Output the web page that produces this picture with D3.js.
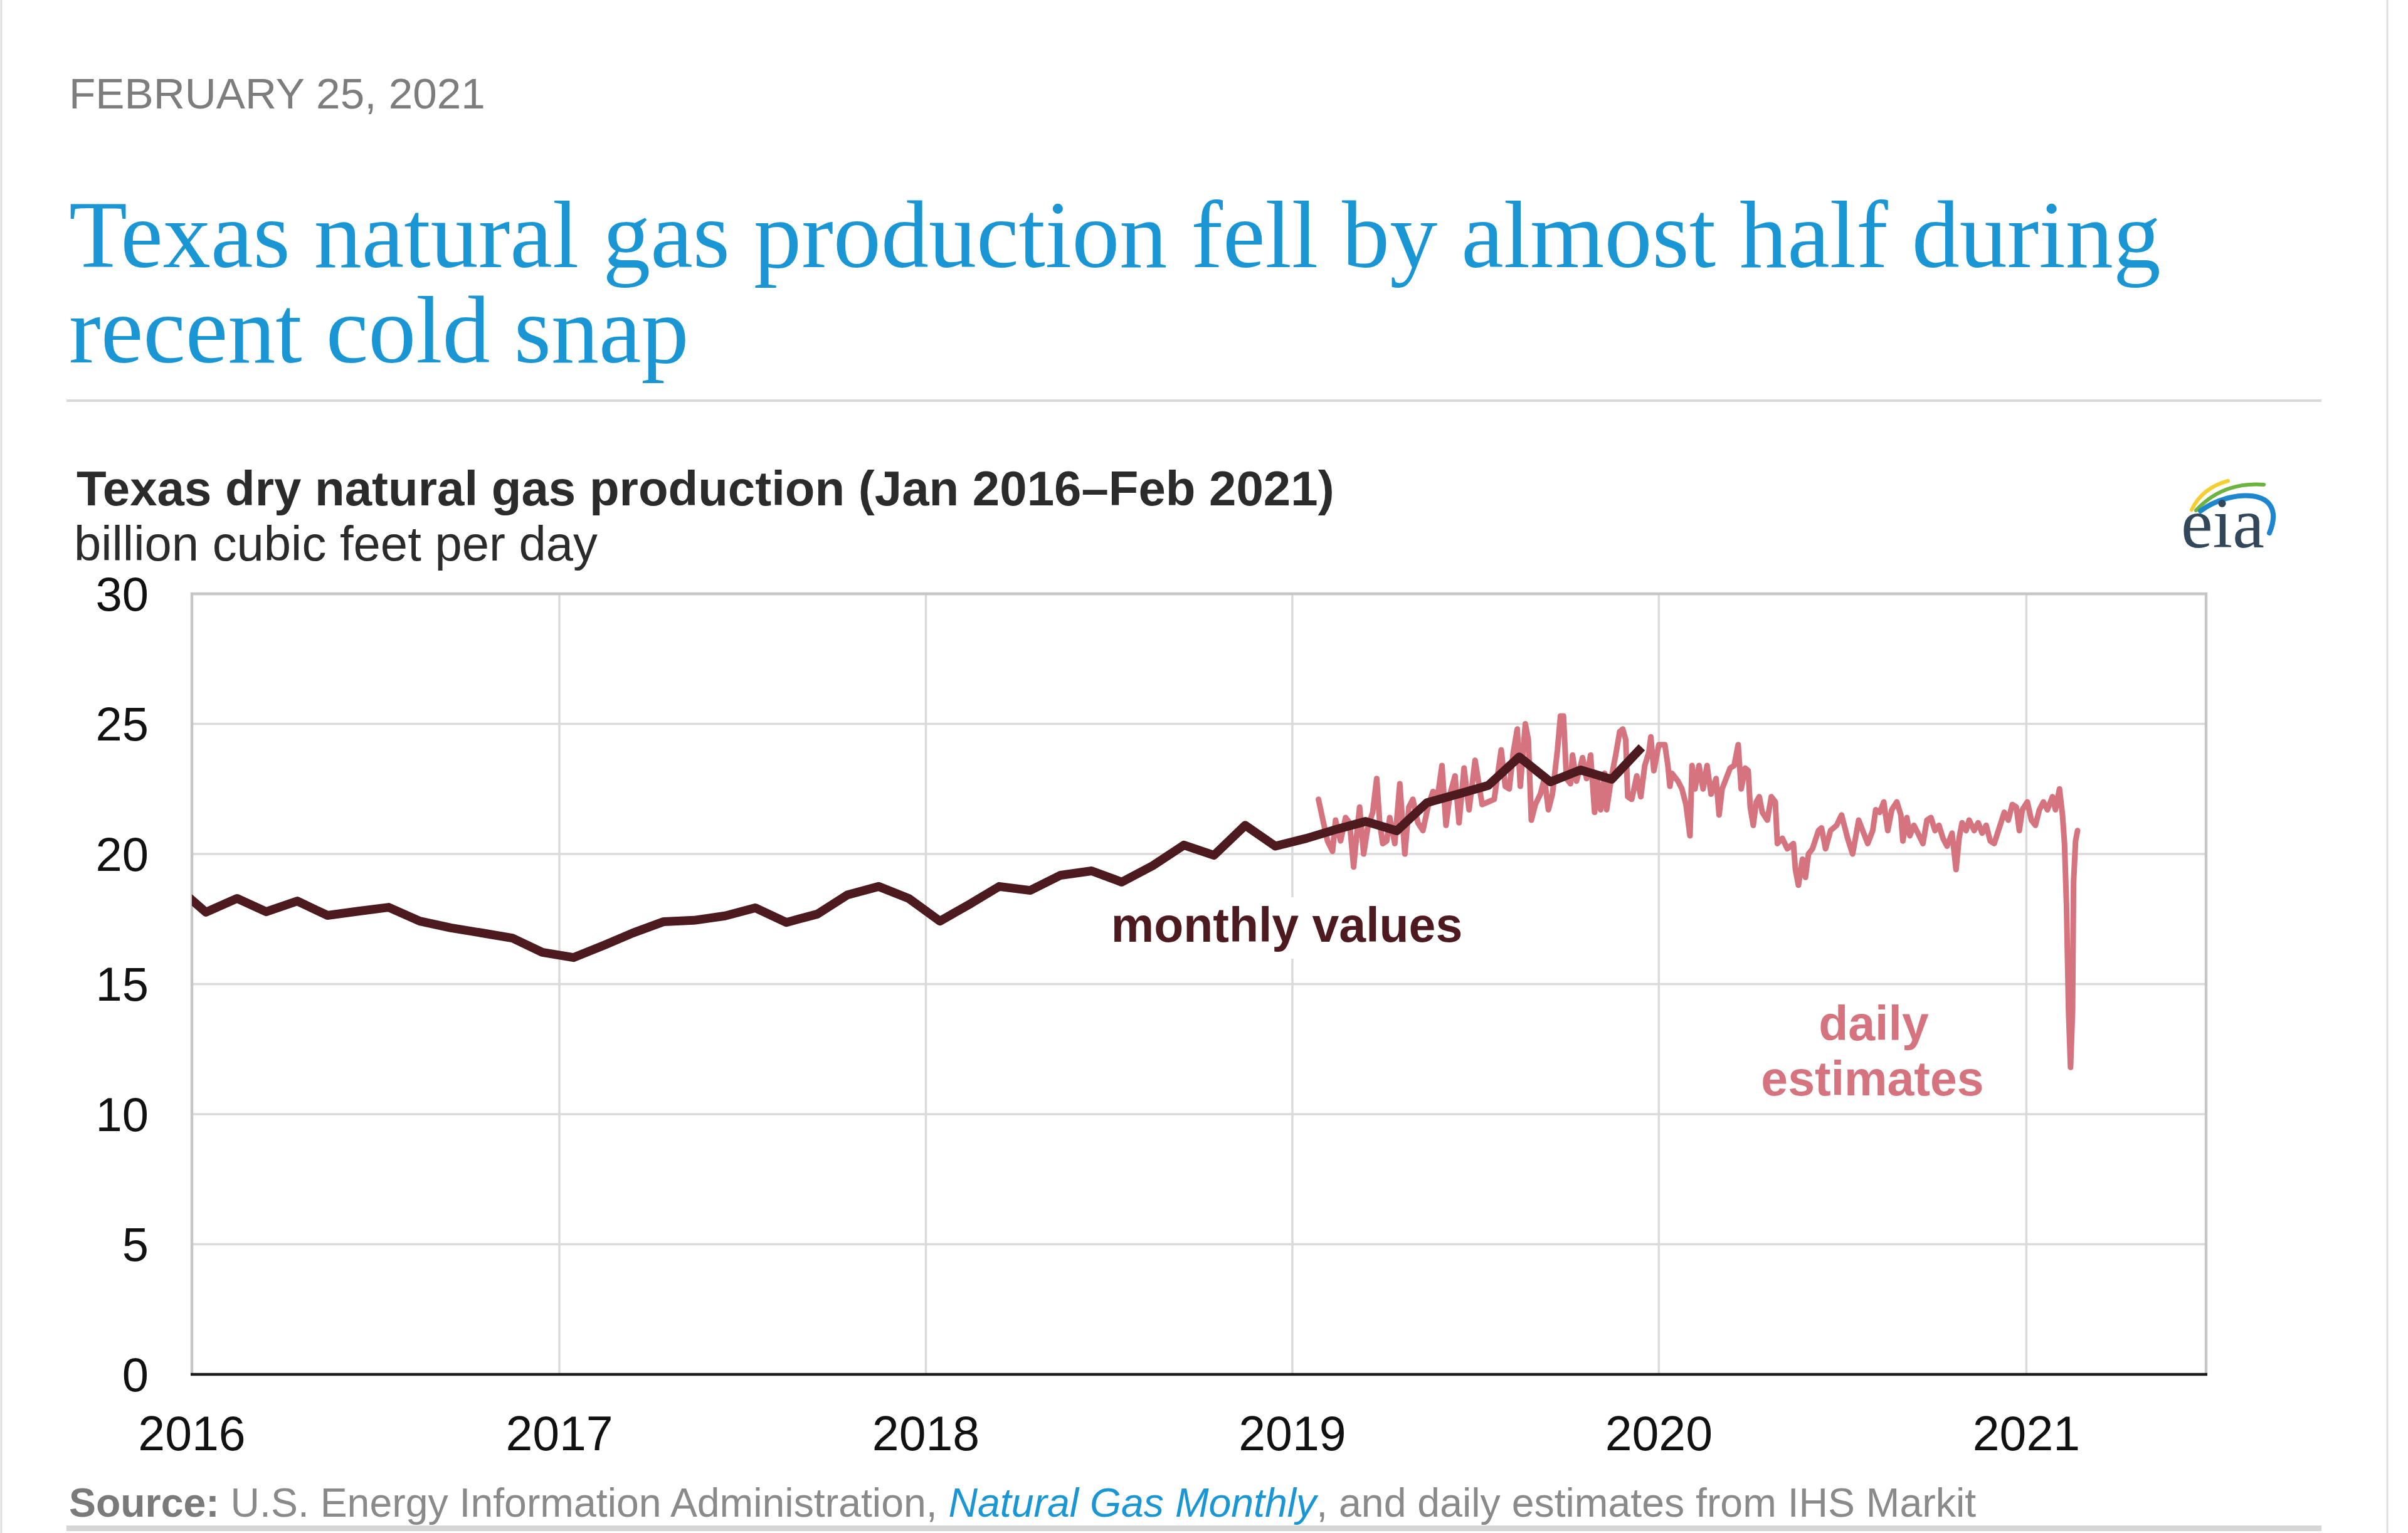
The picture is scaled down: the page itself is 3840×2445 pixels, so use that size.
<!DOCTYPE html>
<html><head><meta charset="utf-8">
<script src="https://cdn.jsdelivr.net/npm/d3@7"></script>
<style>html,body{margin:0;padding:0;background:#fff}</style>
</head><body>
<svg id="chart" width="3840" height="2445" xmlns="http://www.w3.org/2000/svg"></svg>
<script>
// ---------------- DATA ----------------
const yTicks = [0, 5, 10, 15, 20, 25, 30];
const xTickYears = [2016, 2017, 2018, 2019, 2020, 2021];

// monthly values (mid-month), Dec 2015 .. Dec 2019
const monthlyStart = [2015, 11]; // year, month index (Dec 2015)
const monthlyValues = [
  18.8,
  17.76, 18.29, 17.78, 18.19, 17.64, 17.8, 17.95, 17.42, 17.16, 16.97, 16.77, 16.22,
  16.02, 16.5, 16.96, 17.4, 17.45, 17.62, 17.93, 17.37, 17.69, 18.43, 18.75, 18.29,
  17.42, 18.1, 18.75, 18.6, 19.18, 19.35, 18.92, 19.55, 20.34, 19.95, 21.1, 20.3,
  20.6, 20.96, 21.25, 20.89, 21.97, 22.3, 22.63, 23.73, 22.77, 23.23, 22.87, 24.1
];

// daily estimates: days after 2019-01-01, and values
const dailyDays = [
  26,31,35,40,43,48,53,57,61,64,67,71,75,80,84,87,90,94,97,102,107,112,116,120,125,130,135,140,145,149,
  153,157,162,166,171,176,182,189,195,201,208,212,216,220,224,227,232,235,238,242,247,251,255,259,264,267,270,273,277,279,
  283,289,293,297,301,304,307,311,313,318,322,326,329,332,334,338,343,347,351,355,357,360,365,371,374,376,378,384,388,392,
  396,398,401,405,409,413,417,422,425,428,432,436,440,444,447,451,454,456,459,462,465,468,473,477,481,483,488,493,499,501,
  504,508,511,514,518,524,527,531,536,542,547,553,558,564,568,573,578,581,585,589,593,597,602,606,608,612,615,619,623,628,
  632,636,640,644,648,652,657,661,664,667,671,674,679,683,687,691,695,699,704,709,713,717,721,724,727,732,736,740,744,748,
  752,757,760,764,767,769,771,773,775,777,778,780,782
];
const dailyValues = [
  22.1,21.2,20.5,20.1,21.3,20.5,21.4,21.2,19.5,20.7,21.8,20.0,21.0,21.6,22.9,21.2,20.4,20.5,21.4,20.4,22.7,20.0,21.8,22.1,21.2,20.9,21.8,22.4,22.3,23.4,
  21.1,22.3,23.0,21.2,23.3,21.7,23.6,21.9,22.0,22.1,24.0,22.6,22.5,23.9,24.8,22.6,25.0,24.4,21.3,21.9,22.3,22.9,21.7,22.3,24.0,25.3,25.3,22.9,22.7,23.8,
  22.8,23.7,22.9,23.8,21.6,22.8,21.7,23.1,21.7,23.0,23.8,24.7,24.8,24.4,22.2,22.1,23.0,22.2,23.4,23.9,24.5,23.2,24.2,24.2,23.4,22.6,23.1,22.8,22.5,21.9,
  20.7,23.4,22.5,23.4,22.5,23.4,22.3,22.9,21.5,22.5,22.9,23.3,23.4,24.2,22.5,23.3,23.2,21.8,21.1,22.0,22.2,21.6,21.3,22.2,22.0,20.4,20.6,20.2,20.4,19.4,
  18.8,19.8,19.1,20.0,20.2,20.9,21.0,20.2,20.9,21.1,21.5,20.6,20.0,21.3,20.9,20.4,20.9,21.7,21.6,22.0,20.9,21.7,22.0,21.5,20.5,21.4,20.7,21.1,20.8,20.4,
  21.3,21.4,20.9,21.1,20.6,20.3,20.8,19.4,20.6,21.2,20.9,21.3,20.9,21.2,20.8,21.1,20.5,20.4,21.0,21.6,21.3,21.9,21.8,20.9,21.7,22.0,21.3,21.1,21.7,22.0,
  21.7,22.2,21.7,22.5,21.5,20.4,18.0,14.0,11.8,14.0,18.9,20.5,20.9
];

// ---------------- CHART ----------------
const svg = d3.select('#chart');
const SANS = '"Liberation Sans", Arial, Helvetica, sans-serif';
const SERIF = '"Liberation Serif", "Times New Roman", serif';
const PINK = '#d5737e', MAROON = '#4d1a1f', BLUE = '#1a96d5';

const plot = {left: 306, right: 3518, top: 947, bottom: 2192};
const x = d3.scaleUtc()
  .domain([new Date(Date.UTC(2016, 0, 1)), new Date(Date.UTC(2021, 5, 29))])
  .range([plot.left, plot.right]);
const y = d3.scaleLinear().domain([0, 30]).range([plot.bottom, plot.top]);

function fitText(sel, target) {
  const w = sel.node().getComputedTextLength();
  const fs = parseFloat(sel.attr('font-size'));
  sel.attr('font-size', (fs * target / w).toFixed(2));
  return fs * target / w;
}

// page frame
svg.append('line').attr('x1', 2).attr('x2', 2).attr('y1', 0).attr('y2', 2445)
  .attr('stroke', '#dedede').attr('stroke-width', 3);
svg.append('line').attr('x1', 3807).attr('x2', 3807).attr('y1', 0).attr('y2', 2445)
  .attr('stroke', '#dedede').attr('stroke-width', 3);
svg.append('rect').attr('x', 106).attr('y', 2433).attr('width', 3596).attr('height', 9).attr('fill', '#d6d6d6');
svg.append('rect').attr('x', 106).attr('y', 637).attr('width', 3596).attr('height', 4).attr('fill', '#d8d8d8');

// date
const dateT = svg.append('text').attr('x', 110).attr('y', 173)
  .attr('font-family', SANS).attr('font-size', 70).attr('fill', '#7d7d7d')
  .text('FEBRUARY 25, 2021');
fitText(dateT, 664);

// headline (two lines in one text element)
const probe = svg.append('text').attr('font-family', SERIF).attr('font-size', 150)
  .text('Texas natural gas production fell by almost half during');
const hs = 150 * 3336 / probe.node().getComputedTextLength();
probe.remove();
const head = svg.append('text').attr('font-family', SERIF).attr('font-size', hs.toFixed(2)).attr('fill', BLUE);
head.append('tspan').attr('x', 110).attr('y', 426).text('Texas natural gas production fell by almost half during');
head.append('tspan').attr('x', 110).attr('y', 578).text('recent cold snap');

// chart title & units
const ct = svg.append('text').attr('x', 122).attr('y', 806)
  .attr('font-family', SANS).attr('font-weight', 'bold').attr('font-size', 80).attr('fill', '#2b2b2b')
  .text('Texas dry natural gas production (Jan 2016\u2013Feb 2021)');
fitText(ct, 2006);
const ut = svg.append('text').attr('x', 118).attr('y', 894)
  .attr('font-family', SANS).attr('font-size', 80).attr('fill', '#2b2b2b')
  .text('billion cubic feet per day');
fitText(ut, 835);

// eia logo
const logo = svg.append('g');
logo.append('path').attr('d', 'M3495,813 Q3512,778 3553,767').attr('fill', 'none')
  .attr('stroke', '#f4cf2f').attr('stroke-width', 6).attr('stroke-linecap', 'round');
logo.append('path').attr('d', 'M3502,814 Q3545,768 3610,773').attr('fill', 'none')
  .attr('stroke', '#6cb33f').attr('stroke-width', 6).attr('stroke-linecap', 'round');
logo.append('path').attr('d', 'M3509,815 C3555,780 3650,775 3619,850').attr('fill', 'none')
  .attr('stroke', '#1d86cf').attr('stroke-width', 8).attr('stroke-linecap', 'round');
logo.append('text').attr('x', 3478).attr('y', 873)
  .attr('font-family', SERIF).attr('font-size', 114).attr('fill', '#33475a')
  .text('eia');

// gridlines
const grid = svg.append('g');
grid.selectAll('line.h').data(yTicks.filter(v => v > 0 && v < 30)).join('line')
  .attr('x1', plot.left).attr('x2', plot.right)
  .attr('y1', d => y(d)).attr('y2', d => y(d))
  .attr('stroke', '#dadada').attr('stroke-width', 3.5);
grid.selectAll('line.v').data(xTickYears.slice(1)).join('line')
  .attr('x1', d => x(new Date(Date.UTC(d, 0, 1)))).attr('x2', d => x(new Date(Date.UTC(d, 0, 1))))
  .attr('y1', plot.top).attr('y2', plot.bottom)
  .attr('stroke', '#dadada').attr('stroke-width', 3.5);

// frame (top, right, left)
svg.append('path')
  .attr('d', `M${plot.left},${plot.bottom} V${plot.top} H${plot.right} V${plot.bottom}`)
  .attr('fill', 'none').attr('stroke', '#c6c6c6').attr('stroke-width', 4.5);

// knock-out behind monthly label
svg.append('rect').attr('x', 1762).attr('y', 1431).attr('width', 582).attr('height', 98).attr('fill', '#fff');

// clip
svg.append('clipPath').attr('id', 'clip').append('rect')
  .attr('x', plot.left).attr('y', plot.top - 20).attr('width', plot.right - plot.left).attr('height', plot.bottom - plot.top + 20);

// daily series
const dailyData = dailyDays.map((d, i) => ({date: d3.utcDay.offset(new Date(Date.UTC(2019, 0, 1)), d), v: dailyValues[i]}));
svg.append('path').datum(dailyData)
  .attr('clip-path', 'url(#clip)')
  .attr('fill', 'none').attr('stroke', PINK).attr('stroke-width', 9)
  .attr('stroke-linejoin', 'round').attr('stroke-linecap', 'round')
  .attr('d', d3.line().x(d => x(d.date)).y(d => y(d.v)));

// monthly series
const monthlyData = monthlyValues.map((v, i) => ({
  date: new Date(Date.UTC(monthlyStart[0], monthlyStart[1] + i, 15)), v
}));
svg.append('path').datum(monthlyData)
  .attr('clip-path', 'url(#clip)')
  .attr('fill', 'none').attr('stroke', MAROON).attr('stroke-width', 14)
  .attr('stroke-linejoin', 'round')
  .attr('d', d3.line().x(d => x(d.date)).y(d => y(d.v)));

// bottom axis line
svg.append('line').attr('x1', plot.left - 2).attr('x2', plot.right + 2)
  .attr('y1', plot.bottom).attr('y2', plot.bottom)
  .attr('stroke', '#1a1a1a').attr('stroke-width', 4.5);

// y labels
svg.append('g').selectAll('text').data(yTicks).join('text')
  .attr('x', 237).attr('y', d => y(d)).attr('dy', '0.35em')
  .attr('text-anchor', 'end').attr('font-family', SANS).attr('font-size', 76).attr('fill', '#111')
  .text(d => d);

// x labels
svg.append('g').selectAll('text').data(xTickYears).join('text')
  .attr('x', d => x(new Date(Date.UTC(d, 0, 1)))).attr('y', 2313)
  .attr('text-anchor', 'middle').attr('font-family', SANS).attr('font-size', 77).attr('fill', '#111')
  .text(d => d);

// series labels
svg.append('text').attr('x', 2052).attr('y', 1502).attr('text-anchor', 'middle')
  .attr('font-family', SANS).attr('font-weight', 'bold').attr('font-size', 77).attr('fill', MAROON)
  .text('monthly values');
const dl = svg.append('text').attr('text-anchor', 'middle')
  .attr('font-family', SANS).attr('font-weight', 'bold').attr('font-size', 77).attr('fill', PINK);
dl.append('tspan').attr('x', 2988).attr('y', 1659).text('daily');
dl.append('tspan').attr('x', 2986).attr('y', 1747).text('estimates');

// source
const src = svg.append('text').attr('x', 110).attr('y', 2419)
  .attr('font-family', SANS).attr('font-size', 63).attr('fill', '#8a8a8a');
src.append('tspan').attr('font-weight', 'bold').attr('fill', '#7a7a7a').text('Source:');
src.append('tspan').text(' U.S. Energy Information Administration, ');
src.append('tspan').attr('font-style', 'italic').attr('fill', BLUE).text('Natural Gas Monthly');
src.append('tspan').text(', and daily estimates from IHS Markit');
fitText(src, 3042);
</script>
</body></html>
